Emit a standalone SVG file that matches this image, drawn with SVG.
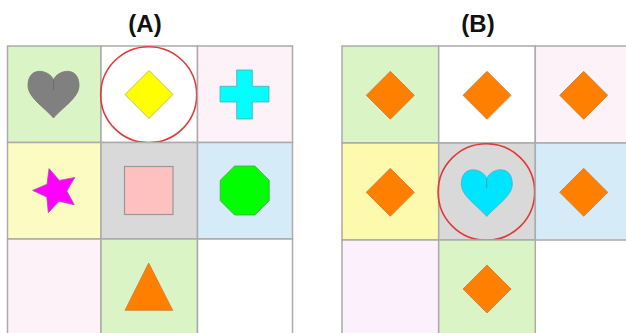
<svg xmlns="http://www.w3.org/2000/svg" width="626" height="333" viewBox="0 0 626 333">
<style>
.cell{stroke:#ababab;stroke-width:1.5}
.g{fill:#dbf4c6}.w{fill:#ffffff}.p{fill:#fdf2f8}.p2{fill:#fbf0fb}.y{fill:#fbfbc2}.y2{fill:#fdfaae}.gr{fill:#d9d9d9}.b{fill:#d6ebf8}
.dia{fill:#ff8000;stroke:#c87a3a;stroke-width:0.8}
.ring{fill:none;stroke:#e03a3a;stroke-width:1.6}
.title{font-family:"Liberation Sans",Arial,sans-serif;font-weight:bold;font-size:24px;fill:#111;text-anchor:middle}
</style>
<defs>
<path id="heart" d="M0,-14.5 C-4,-25 -25.5,-29 -25.5,-9 C-25.5,3 -10,12 0,23.5 C10,12 25.5,3 25.5,-9 C25.5,-29 4,-25 0,-14.5 Z"/>
<path id="diamond" d="M0,-24 L24,0 L0,24 L-24,0 Z"/>
</defs>
<rect width="626" height="333" fill="#ffffff"/>
<text class="title" x="145" y="32">(A)</text>
<text class="title" x="478" y="32">(B)</text>

<g id="gridA">
<g id="a11"><rect class="cell g" x="7.5" y="46" width="93.5" height="96.5"/>
<use href="#heart" x="53.5" y="94.5" fill="#808080" stroke="#777" stroke-width="0.8"/>
<line x1="53.5" y1="80" x2="53.5" y2="90" stroke="#6e6e6e" stroke-width="1"/></g>
<g id="a12"><rect class="cell w" x="101" y="46" width="96.5" height="96.5"/>
<path d="M149,70.5 L173,94.5 L149,118.5 L125,94.5 Z" fill="#ffff00" stroke="#b0b040" stroke-width="0.8"/>
<circle class="ring" cx="148.7" cy="94.7" r="48"/></g>
<g id="a13"><rect class="cell p" x="197.5" y="46" width="95" height="96.5"/>
<polygon points="236.7,70 252.3,70 252.3,86.3 269,86.3 269,102 252.3,102 252.3,119 236.7,119 236.7,102 220,102 220,86.3 236.7,86.3" fill="#00ffff" stroke="#5aa" stroke-width="0.8"/></g>
<g id="a21"><rect class="cell y" x="7.5" y="142.5" width="93.5" height="96.5"/>
<polygon points="49,168.6 59.4,180.4 74.8,177.5 66.8,191 74.3,204.8 59,201.3 48.3,212.7 46.8,197.1 32.6,190.4 47,184.2" fill="#ff00ff" stroke="#b050b0" stroke-width="0.8"/></g>
<g id="a22"><rect class="cell gr" x="101" y="142.5" width="96.5" height="96.5"/>
<rect x="124.5" y="166.5" width="48.5" height="48" fill="#ffc0c0" stroke="#999" stroke-width="1.2"/></g>
<g id="a23"><rect class="cell b" x="197.5" y="142.5" width="95" height="96.5"/>
<polygon points="234.55,166 254.85,166 269.2,180.35 269.2,200.65 254.85,215 234.55,215 220.2,200.65 220.2,180.35" fill="#00ff00" stroke="#50a050" stroke-width="0.8"/></g>
<g id="a31"><rect class="cell p" x="7.5" y="239" width="93.5" height="96"/></g>
<g id="a32"><rect class="cell g" x="101" y="239" width="96.5" height="96"/>
<polygon points="148.7,263 172.7,310.3 125,310.3" fill="#ff8000" stroke="#c87a3a" stroke-width="0.8"/></g>
<g id="a33"><rect class="cell w" x="197.5" y="239" width="95" height="96"/></g>
</g>

<g id="gridB">
<g id="b11"><rect class="cell g" x="342" y="46" width="96.7" height="97"/>
<use href="#diamond" class="dia" x="390.3" y="95.3"/></g>
<g id="b12"><rect class="cell w" x="438.7" y="46" width="96.6" height="97"/>
<use href="#diamond" class="dia" x="487" y="95.3"/></g>
<g id="b13"><rect class="cell p" x="535.3" y="46" width="96" height="97"/>
<use href="#diamond" class="dia" x="583.7" y="95.3"/></g>
<g id="b21"><rect class="cell y2" x="342" y="143" width="96.7" height="97"/>
<use href="#diamond" class="dia" x="390.3" y="192.3"/></g>
<g id="b22"><rect class="cell gr" x="438.7" y="143" width="96.6" height="97"/>
<use href="#heart" x="486.8" y="193" fill="#00e5ff" stroke="#4fb0c0" stroke-width="0.8"/>
<line x1="486.8" y1="178.5" x2="486.8" y2="188" stroke="#3aa0b0" stroke-width="1"/>
<circle class="ring" cx="486.4" cy="192" r="48.3"/></g>
<g id="b23"><rect class="cell b" x="535.3" y="143" width="96" height="97"/>
<use href="#diamond" class="dia" x="583.7" y="192.3"/></g>
<g id="b31"><rect class="cell p2" x="342" y="240" width="96.7" height="96"/></g>
<g id="b32"><rect class="cell g" x="438.7" y="240" width="96.6" height="96"/>
<use href="#diamond" class="dia" x="487" y="289"/></g>
</g>
<g id="connectors"/>
</svg>
